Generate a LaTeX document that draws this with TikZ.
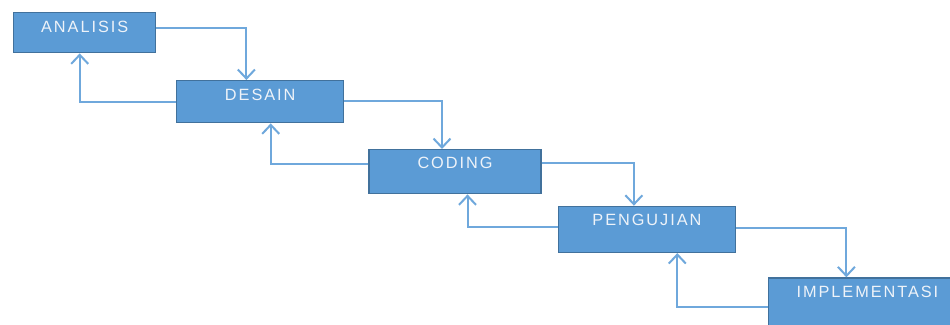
\documentclass[tikz,border=0pt]{standalone}
\usepackage{fontspec}
\setmainfont{Liberation Sans}
\newfontfamily\stagefont[LetterSpace=12]{Liberation Sans}
\usetikzlibrary{arrows.meta}
\definecolor{boxfill}{HTML}{5B9BD5}
\definecolor{boxline}{HTML}{41719C}
\definecolor{flowline}{HTML}{6FA8DC}
\definecolor{stagetext}{HTML}{EEF3F9}
\tikzset{
  stage/.style={draw=boxline, fill=boxfill, line width=1.4pt, rectangle,
    inner sep=0pt, anchor=north west},
  stagelabel/.style={anchor=north, yshift=-9pt, inner sep=0pt,
    text=stagetext, font=\stagefont\fontsize{16.3}{18}\selectfont},
  flow/.style={draw=flowline, line width=2pt,
    -{Straight Barb[length=9pt,width=17pt,line width=2pt]}},
}
\begin{document}
\begin{tikzpicture}[x=1pt,y=-1pt]
  \useasboundingbox (0,0) rectangle (950,324);
  \fill[white] (0,0) rectangle (950,324);

  % waterfall stages
  \node[stage, minimum width=142pt, minimum height=40pt,
    label={[stagelabel]north:ANALISIS}] (ana) at (13,12) {};
  \node[stage, minimum width=167pt, minimum height=42pt,
    label={[stagelabel]north:DESAIN}] (des) at (176,80) {};
  \node[stage, minimum width=172pt, minimum height=44pt,
    label={[stagelabel, yshift=1pt]north:CODING}] (cod) at (368.3,149) {};
  \node[stage, minimum width=177pt, minimum height=46pt,
    label={[stagelabel, yshift=1pt]north:PENGUJIAN}] (uji) at (557.7,205.7) {};
  \node[stage, minimum width=198pt, minimum height=57pt,
    label={[stagelabel]north:IMPLEMENTASI}] (imp) at (767.7,277.3) {};

  % forward flow
  \draw[flow] ([yshift=4.3pt]ana.east) -| ([xshift=-13.8pt]des.north);
  \draw[flow] ([yshift=1pt]des.east) -| ([xshift=-13pt]cod.north);
  \draw[flow] ([yshift=8.5pt]cod.east) -| ([xshift=-13pt]uji.north);
  \draw[flow] ([yshift=1.4pt]uji.east) -| ([xshift=-21pt]imp.north);

  % feedback flow
  \draw[flow] (des.west) -| ([xshift=-5pt]ana.south);
  \draw[flow] ([yshift=7.5pt]cod.west) -| ([xshift=10.5pt]des.south);
  \draw[flow] ([yshift=2pt]uji.west) -| ([xshift=12.5pt]cod.south);
  \draw[flow] (imp.west) -| ([xshift=30.4pt]uji.south);
\end{tikzpicture}
\end{document}
